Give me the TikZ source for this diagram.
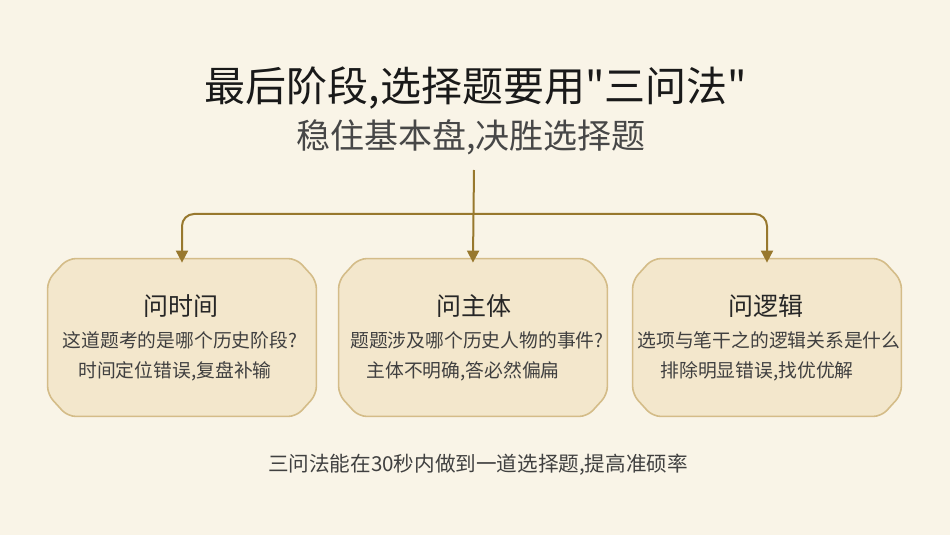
\documentclass[tikz,border=0pt]{standalone}
\usepackage{fontspec}
\setmainfont{Noto Sans CJK SC}
\newfontfamily\headfont{Noto Sans CJK SC}
\usetikzlibrary{arrows.meta}

\definecolor{paper}{RGB}{249,244,231}
\definecolor{boxfill}{RGB}{243,231,204}
\definecolor{boxline}{RGB}{212,188,136}
\definecolor{gold}{RGB}{152,120,46}
\definecolor{ink}{RGB}{45,42,38}

\begin{document}
\begin{tikzpicture}[x=0.5pt, y=-0.5pt,
  stagenode/.style={rectangle, minimum width=134pt, minimum height=78.5pt, inner sep=0pt},
  stageline/.style={draw=boxline, fill=boxfill, line width=0.8pt, rounded corners=4pt},
  headnode/.style={font=\headfont\fontsize{20.5}{24}\selectfont, text=black!90},
  subnode/.style={font=\fontsize{17}{20}\selectfont, text=black!72},
  asknode/.style={font=\fontsize{12.5}{15}\selectfont, text=black!85},
  linenode/.style={font=\fontsize{9.4}{11}\selectfont, text=black!75, inner sep=0pt},
  link/.style={draw=gold, line width=1pt, shorten >=-2pt, -{Triangle[width=6pt,length=6pt]}}]
\fill[paper] (0,0) rectangle (950,535);
\useasboundingbox (0,0) rectangle (950,535);

\node[headnode] (head) at (476, 88) {最后阶段,选择题要用"三问法"};
\node[subnode] (sub) at (471, 137) {稳住基本盘,决胜选择题};

\node[stagenode] (t1) at (182, 337.5) {};
\node[stagenode] (t2) at (473, 337.5) {};
\node[stagenode] (t3) at (767, 337.5) {};
% chamfered frames
\foreach \b in {t1,t2,t3}
  \path[stageline] ([xshift=10pt]\b.north west) -- ([xshift=-10pt]\b.north east)
    -- ([yshift=-11pt]\b.north east) -- ([yshift=11pt]\b.south east)
    -- ([xshift=-10pt]\b.south east) -- ([xshift=10pt]\b.south west)
    -- ([yshift=11pt]\b.south west) -- ([yshift=-11pt]\b.north west) -- cycle;

\node[asknode] (a1) at (181, 306) {问时间};
\node[asknode] (a2) at (474, 306) {问主体};
\node[asknode] (a3) at (766, 306) {问逻辑};

\node[linenode] (q1) at (180, 340) {这道题考的是哪个历史阶段?};
\node[linenode, anchor=west] (r1) at (78, 371) {时间定位错误,复盘补输};
\node[linenode] (q2) at (477, 340) {题题涉及哪个历史人物的事件?};
\node[linenode, anchor=west] (r2) at (366, 371) {主体不明确,答必然偏扁};
\node[linenode] (q3) at (769, 340) {选项与笔干之的逻辑关系是什么};
\node[linenode, anchor=west] (r3) at (660, 371) {排除明显错误,找优优解};

\node[linenode, font=\fontsize{10.3}{12}\selectfont] (foot) at (478, 465) {三问法能在30秒内做到一道选择题,提高准硕率};

\coordinate (top) at (474, 170);
\coordinate (hub) at (474, 214);
\draw[link] (top) -- (t2.north);
\draw[link, rounded corners=6pt] (hub) -| (t1.north);
\draw[link, rounded corners=6pt] (hub) -| (t3.north);

\end{tikzpicture}
\end{document}
